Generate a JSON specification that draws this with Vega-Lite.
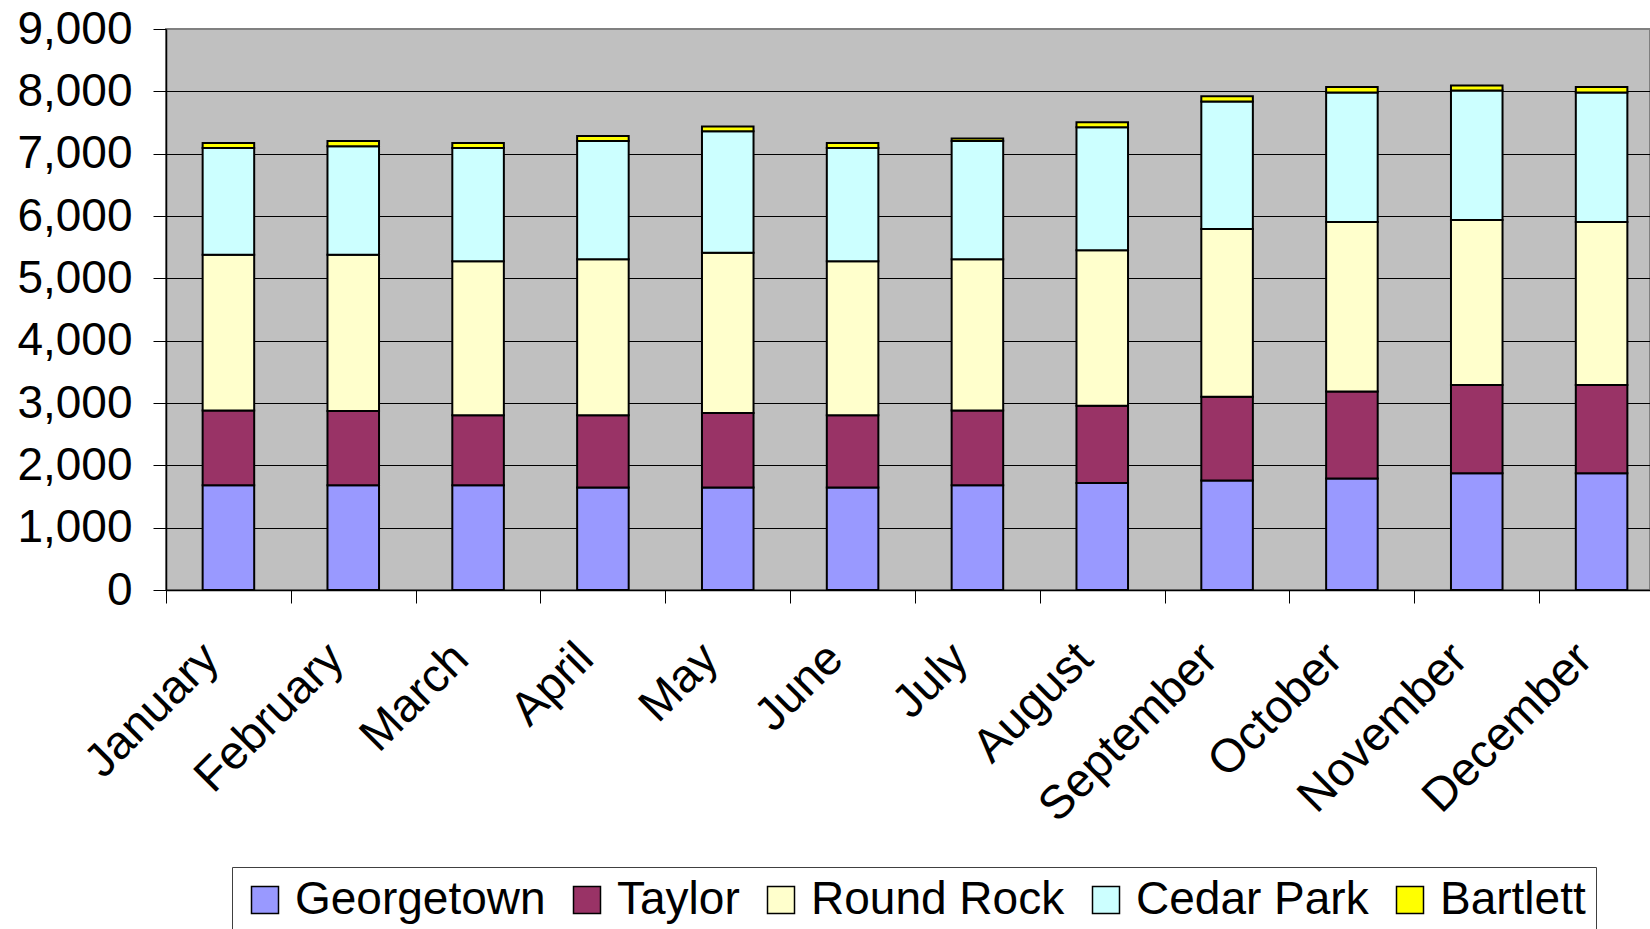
{
  "$schema": "https://vega.github.io/schema/vega-lite/v6.json",
  "width": 1484,
  "height": 561,
  "autosize": {"type": "none"},
  "padding": {"left": 166, "top": 29, "right": 0, "bottom": 339},
  "background": "white",
  "config": {
    "font": "Liberation Sans",
    "view": {"fill": "#C0C0C0", "stroke": "#808080", "strokeWidth": 2}
  },
  "data": {
    "values": [
      {"month": "January", "city": "Georgetown", "value": 1680, "seriesOrder": 1},
      {"month": "January", "city": "Taylor", "value": 1200, "seriesOrder": 2},
      {"month": "January", "city": "Round Rock", "value": 2500, "seriesOrder": 3},
      {"month": "January", "city": "Cedar Park", "value": 1710, "seriesOrder": 4},
      {"month": "January", "city": "Bartlett", "value": 80, "seriesOrder": 5},
      {"month": "February", "city": "Georgetown", "value": 1680, "seriesOrder": 1},
      {"month": "February", "city": "Taylor", "value": 1190, "seriesOrder": 2},
      {"month": "February", "city": "Round Rock", "value": 2510, "seriesOrder": 3},
      {"month": "February", "city": "Cedar Park", "value": 1740, "seriesOrder": 4},
      {"month": "February", "city": "Bartlett", "value": 85, "seriesOrder": 5},
      {"month": "March", "city": "Georgetown", "value": 1680, "seriesOrder": 1},
      {"month": "March", "city": "Taylor", "value": 1125, "seriesOrder": 2},
      {"month": "March", "city": "Round Rock", "value": 2470, "seriesOrder": 3},
      {"month": "March", "city": "Cedar Park", "value": 1815, "seriesOrder": 4},
      {"month": "March", "city": "Bartlett", "value": 80, "seriesOrder": 5},
      {"month": "April", "city": "Georgetown", "value": 1645, "seriesOrder": 1},
      {"month": "April", "city": "Taylor", "value": 1160, "seriesOrder": 2},
      {"month": "April", "city": "Round Rock", "value": 2500, "seriesOrder": 3},
      {"month": "April", "city": "Cedar Park", "value": 1900, "seriesOrder": 4},
      {"month": "April", "city": "Bartlett", "value": 80, "seriesOrder": 5},
      {"month": "May", "city": "Georgetown", "value": 1645, "seriesOrder": 1},
      {"month": "May", "city": "Taylor", "value": 1195, "seriesOrder": 2},
      {"month": "May", "city": "Round Rock", "value": 2570, "seriesOrder": 3},
      {"month": "May", "city": "Cedar Park", "value": 1950, "seriesOrder": 4},
      {"month": "May", "city": "Bartlett", "value": 75, "seriesOrder": 5},
      {"month": "June", "city": "Georgetown", "value": 1645, "seriesOrder": 1},
      {"month": "June", "city": "Taylor", "value": 1160, "seriesOrder": 2},
      {"month": "June", "city": "Round Rock", "value": 2470, "seriesOrder": 3},
      {"month": "June", "city": "Cedar Park", "value": 1815, "seriesOrder": 4},
      {"month": "June", "city": "Bartlett", "value": 80, "seriesOrder": 5},
      {"month": "July", "city": "Georgetown", "value": 1680, "seriesOrder": 1},
      {"month": "July", "city": "Taylor", "value": 1200, "seriesOrder": 2},
      {"month": "July", "city": "Round Rock", "value": 2425, "seriesOrder": 3},
      {"month": "July", "city": "Cedar Park", "value": 1900, "seriesOrder": 4},
      {"month": "July", "city": "Bartlett", "value": 40, "seriesOrder": 5},
      {"month": "August", "city": "Georgetown", "value": 1715, "seriesOrder": 1},
      {"month": "August", "city": "Taylor", "value": 1240, "seriesOrder": 2},
      {"month": "August", "city": "Round Rock", "value": 2495, "seriesOrder": 3},
      {"month": "August", "city": "Cedar Park", "value": 1975, "seriesOrder": 4},
      {"month": "August", "city": "Bartlett", "value": 80, "seriesOrder": 5},
      {"month": "September", "city": "Georgetown", "value": 1755, "seriesOrder": 1},
      {"month": "September", "city": "Taylor", "value": 1345, "seriesOrder": 2},
      {"month": "September", "city": "Round Rock", "value": 2690, "seriesOrder": 3},
      {"month": "September", "city": "Cedar Park", "value": 2045, "seriesOrder": 4},
      {"month": "September", "city": "Bartlett", "value": 85, "seriesOrder": 5},
      {"month": "October", "city": "Georgetown", "value": 1790, "seriesOrder": 1},
      {"month": "October", "city": "Taylor", "value": 1395, "seriesOrder": 2},
      {"month": "October", "city": "Round Rock", "value": 2720, "seriesOrder": 3},
      {"month": "October", "city": "Cedar Park", "value": 2075, "seriesOrder": 4},
      {"month": "October", "city": "Bartlett", "value": 90, "seriesOrder": 5},
      {"month": "November", "city": "Georgetown", "value": 1875, "seriesOrder": 1},
      {"month": "November", "city": "Taylor", "value": 1415, "seriesOrder": 2},
      {"month": "November", "city": "Round Rock", "value": 2645, "seriesOrder": 3},
      {"month": "November", "city": "Cedar Park", "value": 2080, "seriesOrder": 4},
      {"month": "November", "city": "Bartlett", "value": 80, "seriesOrder": 5},
      {"month": "December", "city": "Georgetown", "value": 1875, "seriesOrder": 1},
      {"month": "December", "city": "Taylor", "value": 1415, "seriesOrder": 2},
      {"month": "December", "city": "Round Rock", "value": 2615, "seriesOrder": 3},
      {"month": "December", "city": "Cedar Park", "value": 2075, "seriesOrder": 4},
      {"month": "December", "city": "Bartlett", "value": 90, "seriesOrder": 5}
    ]
  },
  "mark": {"type": "bar", "stroke": "black", "strokeWidth": 2},
  "encoding": {
    "x": {
      "field": "month",
      "type": "nominal",
      "sort": ["January", "February", "March", "April", "May", "June", "July", "August", "September", "October", "November", "December"],
      "scale": {"range": [0, 1498], "paddingInner": 0.587, "paddingOuter": 0.2935},
      "axis": {
        "title": null,
        "labelAngle": -45,
        "labelAlign": "right",
        "labelBaseline": "middle",
        "labelFontSize": 47,
        "labelColor": "black",
        "labelPadding": 48,
        "labelLimit": 0,
        "tickSize": 13,
        "tickColor": "black",
        "tickWidth": 1,
        "tickOffset": -62.42,
        "labelOffset": 45,
        "domainColor": "black",
        "domainWidth": 1.5,
        "grid": false
      }
    },
    "y": {
      "field": "value",
      "type": "quantitative",
      "stack": "zero",
      "scale": {"domain": [0, 9000], "nice": false},
      "axis": {
        "title": null,
        "values": [0, 1000, 2000, 3000, 4000, 5000, 6000, 7000, 8000, 9000],
        "format": ",d",
        "labelFontSize": 46,
        "labelColor": "black",
        "labelPadding": 21,
        "tickSize": 13,
        "tickColor": "black",
        "domainColor": "black",
        "domainWidth": 1.5,
        "grid": true,
        "gridColor": {"condition": {"test": "datum.value === 9000", "value": "#808080"}, "value": "black"},
        "gridWidth": 1,
        "gridOpacity": 1
      }
    },
    "color": {
      "field": "city",
      "type": "nominal",
      "sort": ["Georgetown", "Taylor", "Round Rock", "Cedar Park", "Bartlett"],
      "scale": {
        "domain": ["Georgetown", "Taylor", "Round Rock", "Cedar Park", "Bartlett"],
        "range": ["#9999FF", "#993366", "#FFFFCC", "#CCFFFF", "#FFFF00"]
      },
      "legend": {
        "title": null,
        "orient": "none",
        "legendX": 66,
        "legendY": 838,
        "direction": "horizontal",
        "fillColor": "white",
        "strokeColor": "#404040",
        "padding": 10,
        "symbolType": "square",
        "symbolSize": 729,
        "symbolStrokeColor": "black",
        "symbolStrokeWidth": 1.5,
        "symbolOpacity": 1,
        "labelFontSize": 46,
        "labelColor": "black",
        "labelOffset": 7,
        "labelLimit": 0,
        "columnPadding": 18
      }
    },
    "order": {"field": "seriesOrder", "type": "quantitative"}
  }
}
